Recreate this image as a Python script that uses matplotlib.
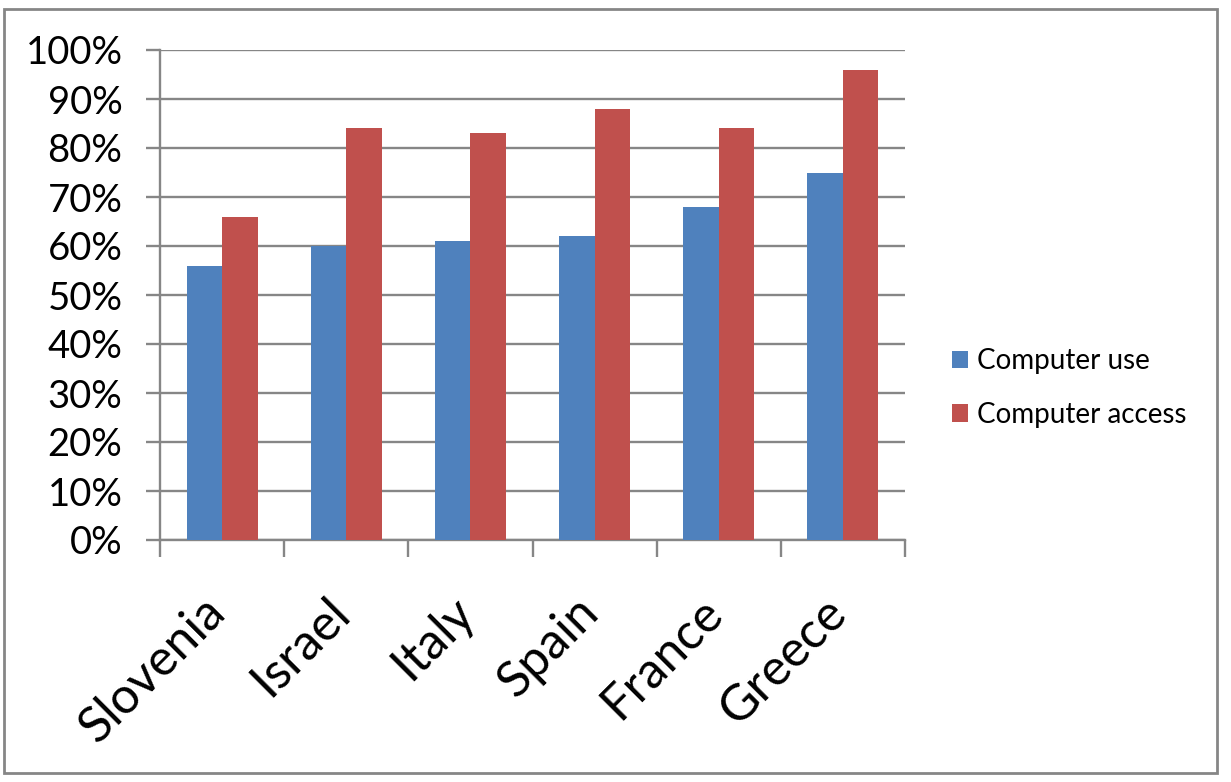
import numpy as np
import matplotlib
matplotlib.use("Agg")
import matplotlib.pyplot as plt
from matplotlib.patches import Patch, Rectangle
import matplotlib.transforms as mtransforms

# Daten
countries = ["Slovenia", "Israel", "Italy", "Spain", "France", "Greece"]
computer_use = [56, 60, 61, 62, 68, 75]
computer_access = [66, 84, 83, 88, 84, 96]
series_names = ["Computer use", "Computer access"]
y_ticks = [0, 10, 20, 30, 40, 50, 60, 70, 80, 90, 100]

blue = "#4F81BD"
red = "#C0504D"
grid_grey = "#868686"

plt.rcParams["font.family"] = ["Lato", "DejaVu Sans"]

W, H = 1231, 782
fig = plt.figure(figsize=(W / 100, H / 100), dpi=100)
ax = fig.add_axes([160 / W, 1 - 540 / H, 745 / W, 490 / H])

x = np.arange(len(countries))
bw = 0.2857
ax.bar(x - bw / 2, computer_use, bw, color=blue, zorder=3)
ax.bar(x + bw / 2, computer_access, bw, color=red, zorder=3)

ax.set_xlim(-0.5, len(countries) - 0.5)
ax.set_ylim(0, 100)

# y-as
ax.set_yticks(y_ticks)
ax.set_yticklabels([f"{v}%" for v in y_ticks], fontsize=27.5)
ax.yaxis.grid(True, color=grid_grey, linewidth=1.7, zorder=0)
ax.tick_params(axis="y", length=10, width=1.7, color=grid_grey, pad=17)

# x-as: tickmarks tussen de groepen
ax.set_xticks(np.arange(-0.5, len(countries), 1.0))
ax.set_xticklabels([])
ax.tick_params(axis="x", length=12, width=1.7, color=grid_grey)

for side in ["top", "right"]:
    ax.spines[side].set_visible(False)
for side in ["left", "bottom"]:
    ax.spines[side].set_color(grid_grey)
    ax.spines[side].set_linewidth(1.7)

# landnamen schuin
trans = mtransforms.blended_transform_factory(ax.transData, ax.transAxes)
for i, name in enumerate(countries):
    ax.text(i + 0.1, -0.1, name, transform=trans, rotation=45,
            ha="right", va="top", fontsize=36)

# legenda
handles = [Patch(facecolor=blue), Patch(facecolor=red)]
fig.legend(handles, series_names, loc="upper left",
           bbox_to_anchor=(952 / W, 1 - 348 / H), frameon=False,
           fontsize=20, handlelength=0.58, handleheight=0.58,
           handletextpad=0.32, labelspacing=1.0, borderpad=0, borderaxespad=0)

# kader om de figuur
fig.patches.append(Rectangle((4 / W, 1 - 773 / H), 1213 / W, 764 / H,
                             transform=fig.transFigure, fill=False,
                             edgecolor=grid_grey, linewidth=2))

fig.savefig("out.png", dpi=100)
